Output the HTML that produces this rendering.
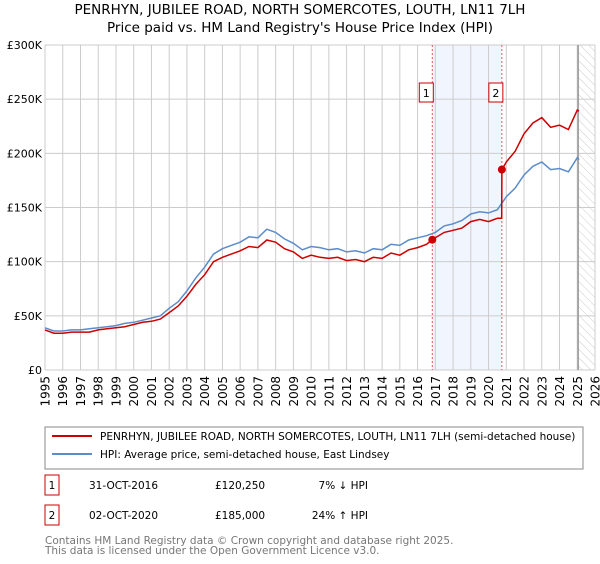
<!DOCTYPE html>
<html><head><meta charset="utf-8"><style>
body{margin:0;background:#fff;font-family:"DejaVu Sans","Liberation Sans",sans-serif;}
svg text{font-family:"DejaVu Sans","Liberation Sans",sans-serif;}
</style></head><body>
<svg id="c" width="600" height="560" xmlns="http://www.w3.org/2000/svg">
<defs><pattern id="hatch" width="6" height="6" patternUnits="userSpaceOnUse" patternTransform="rotate(-45)"><line x1="0" y1="0" x2="0" y2="6" stroke="#ccc" stroke-width="1"/></pattern></defs>
<text x="300" y="14" text-anchor="middle" font-size="13.5" fill="#000">PENRHYN, JUBILEE ROAD, NORTH SOMERCOTES, LOUTH, LN11 7LH</text>
<text x="300" y="32" text-anchor="middle" font-size="13.5" fill="#000">Price paid vs. HM Land Registry's House Price Index (HPI)</text>
<g id="grid"></g><g id="marks"></g><g id="axes"></g>
<rect x="45" y="427" width="538" height="42" fill="none" stroke="#888"/>
<line x1="52" y1="436" x2="92" y2="436" stroke="#cc0000" stroke-width="2"/>
<text x="100" y="440" font-size="10.5">PENRHYN, JUBILEE ROAD, NORTH SOMERCOTES, LOUTH, LN11 7LH (semi-detached house)</text>
<line x1="52" y1="454" x2="92" y2="454" stroke="#5b8ccc" stroke-width="2"/>
<text x="100" y="458" font-size="10.5">HPI: Average price, semi-detached house, East Lindsey</text>
<g font-size="10.5">
<rect x="45" y="475" width="14" height="20" fill="#fff" stroke="#cc0000"/><text x="52" y="489" text-anchor="middle">1</text>
<text x="89" y="489">31-OCT-2016</text><text x="215" y="489">£120,250</text><text x="368" y="489" text-anchor="end">7% ↓ HPI</text></g>
<g font-size="10.5">
<rect x="45" y="505" width="14" height="20" fill="#fff" stroke="#cc0000"/><text x="52" y="519" text-anchor="middle">2</text>
<text x="89" y="519">02-OCT-2020</text><text x="215" y="519">£185,000</text><text x="368" y="519" text-anchor="end">24% ↑ HPI</text></g>
<text x="45" y="544" font-size="10.5" fill="#777">Contains HM Land Registry data © Crown copyright and database right 2025.</text>
<text x="45" y="554" font-size="10.5" fill="#777">This data is licensed under the Open Government Licence v3.0.</text>
</svg>
<script>
const yearTicks=[1995,1996,1997,1998,1999,2000,2001,2002,2003,2004,2005,2006,2007,2008,2009,2010,2011,2012,2013,2014,2015,2016,2017,2018,2019,2020,2021,2022,2023,2024,2025,2026];
const valueTicks=[0,50,100,150,200,250,300];
const valueTickLabels=["£0","£50K","£100K","£150K","£200K","£250K","£300K"];
const hpiYears=[1995,1995.5,1996,1996.5,1997,1997.5,1998,1998.5,1999,1999.5,2000,2000.5,2001,2001.5,2002,2002.5,2003,2003.5,2004,2004.5,2005,2005.5,2006,2006.5,2007,2007.5,2008,2008.5,2009,2009.5,2010,2010.5,2011,2011.5,2012,2012.5,2013,2013.5,2014,2014.5,2015,2015.5,2016,2016.5,2017,2017.5,2018,2018.5,2019,2019.5,2020,2020.5,2021,2021.5,2022,2022.5,2023,2023.5,2024,2024.5,2025,2025.1];
const hpiValues=[39,36,36,37,37,38,39,40,41,43,44,46,48,50,57,63,73,85,95,107,112,115,118,123,122,130,127,121,117,111,114,113,111,112,109,110,108,112,111,116,115,120,122,124,127,133,135,138,144,146,145,148,160,168,180,188,192,185,186,183,196,194];
const priceYears=[1995,1995.5,1996,1996.5,1997,1997.5,1998,1998.5,1999,1999.5,2000,2000.5,2001,2001.5,2002,2002.5,2003,2003.5,2004,2004.5,2005,2005.5,2006,2006.5,2007,2007.5,2008,2008.5,2009,2009.5,2010,2010.5,2011,2011.5,2012,2012.5,2013,2013.5,2014,2014.5,2015,2015.5,2016,2016.5,2016.83,2017,2017.5,2018,2018.5,2019,2019.5,2020,2020.5,2020.74,2020.75,2021,2021.5,2022,2022.5,2023,2023.5,2024,2024.5,2025,2025.1];
const priceValues=[37,34,34,35,35,35,37,38,39,40,42,44,45,47,53,59,68,79,88,100,104,107,110,114,113,120,118,112,109,103,106,104,103,104,101,102,100,104,103,108,106,111,113,116,120.25,122,127,129,131,137,139,137,140,140,185,192,202,218,228,233,224,226,222,240,239];
const saleYears=[2016.83,2020.75];
const saleValues=[120.25,185];
const saleLabels=["1","2"];
const NS="http://www.w3.org/2000/svg";
const X0=45,X1=595,Y0=370,Y1=45;
const xS=y=>X0+(y-1995)/(2026-1995)*(X1-X0);
const yS=v=>Y0-v/300*(Y0-Y1);
function mk(p,t,a){const e=document.createElementNS(NS,t);for(const k in a)e.setAttribute(k,a[k]);p.appendChild(e);return e;}
const grid=document.getElementById('grid'),marks=document.getElementById('marks'),axes=document.getElementById('axes');
let r=mk(grid,'rect',{x:xS(saleYears[0]),y:Y1,width:xS(saleYears[1])-xS(saleYears[0]),height:Y0-Y1,fill:'#eef3fc',opacity:0.8});


yearTicks.forEach(y=>{const l=mk(grid,'line',{x1:xS(y),x2:xS(y),y1:Y1,y2:Y0,stroke:'#ccc'});


const t=mk(axes,'text',{x:0,y:0,'font-size':12,'text-anchor':'end',transform:`translate(${xS(y)+4.5},${Y0+6}) rotate(-90)`});t.textContent=y;

});
valueTicks.forEach((v,i)=>{const l=mk(grid,'line',{x1:X0,x2:X1,y1:yS(v),y2:yS(v),stroke:'#ccc'});


const t=mk(axes,'text',{x:X0-3,y:yS(v)+4,'font-size':11,'text-anchor':'end'});t.textContent=valueTickLabels[i];

});
const h=mk(grid,'rect',{x:xS(2025.05),y:Y1,width:X1-xS(2025.05),height:Y0-Y1,fill:'url(#hatch)'});


const hl=mk(grid,'line',{x1:xS(2025.05),x2:xS(2025.05),y1:Y1,y2:Y0,stroke:'#999','stroke-width':1.5});


saleYears.forEach((y,i)=>{const l=mk(grid,'line',{x1:xS(y),x2:xS(y),y1:Y1,y2:Y0,stroke:'#e55','stroke-dasharray':'2,2'});

});
const pts=(xs,vs)=>xs.map((x,i)=>xS(x).toFixed(1)+','+yS(vs[i]).toFixed(1)).join(' ');
const hp=mk(marks,'polyline',{points:pts(hpiYears,hpiValues),fill:'none',stroke:'#5b8ccc','stroke-width':1.5});


const pp=mk(marks,'polyline',{points:pts(priceYears,priceValues),fill:'none',stroke:'#cc0000','stroke-width':1.5});


saleYears.forEach((y,i)=>{const c=mk(marks,'circle',{cx:xS(y),cy:yS(saleValues[i]),r:4,fill:'#cc0000'});


const g=mk(marks,'g',{});


mk(g,'rect',{x:xS(y)-13,y:83,width:14,height:19,fill:'#fff',stroke:'#cc0000'});
const t=mk(g,'text',{x:xS(y)-6,y:97,'font-size':11,'text-anchor':'middle'});t.textContent=saleLabels[i];});
</script>
</body></html>
